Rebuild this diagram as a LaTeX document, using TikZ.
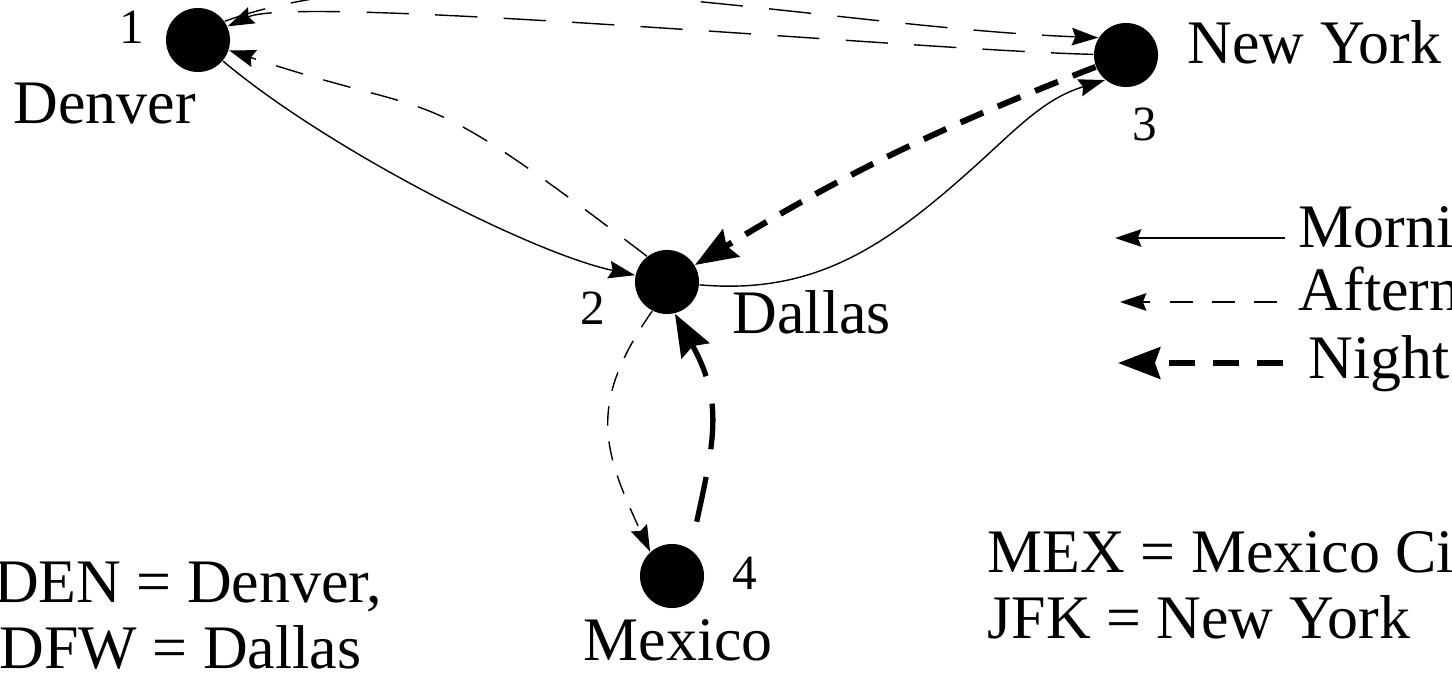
\documentclass[tikz,border=0pt]{standalone}
\usepackage{fontspec}
\setmainfont{Liberation Serif}
\usetikzlibrary{positioning, arrows.meta}

\begin{document}
\begin{tikzpicture}
    [
        x=0.01cm, y=0.01cm,
        city_node/.style={circle, draw=none, fill=black, inner sep=0pt, minimum size=6.4mm},
        num_label/.style={inner sep=0pt, font=\fontsize{14}{16}\selectfont},
        name_label/.style={inner sep=0pt, font=\fontsize{17.6}{20}\selectfont},
        morning_edge/.style={-{Stealth[length=7.5pt, width=5pt, inset=1pt]}, line width=0.4pt},
        afternoon_edge/.style={-{Stealth[length=7.5pt, width=5pt, inset=1pt]}, line width=0.4pt, dash pattern=on 8pt off 6pt},
        night_edge/.style={-{Stealth[length=12pt, width=9pt, inset=1.5pt]}, line width=1.7pt, dash pattern=on 7pt off 4.5pt},
    ]
        \path[use as bounding box] (0,0) rectangle (1452,678) ;
        \clip (0,0) rectangle (1452,678) ;

        \node[city_node] (den) at (198,638) {} ;
        \node[city_node] (dal) at (667,396) {} ;
        \node[city_node] (nyc) at (1126,623) {} ;
        \node[city_node] (mex) at (672,102) {} ;

        \node[num_label] (den_num) at (132,651) {1} ;
        \node[name_label, anchor=base west] (den_name) at (13,555) {Denver} ;
        \node[num_label] (dal_num) at (593,370) {2} ;
        \node[name_label, anchor=base west] (dal_name) at (732,345) {Dallas} ;
        \node[num_label] (nyc_num) at (1145,554) {3} ;
        \node[name_label, anchor=base west] (nyc_name) at (1187,615) {New York} ;
        \node[num_label] (mex_num) at (745,105) {4} ;
        \node[name_label, anchor=base west] (mex_name) at (583,18) {Mexico} ;

        \coordinate (dal_nyc) at (964,502) ;

        \draw[morning_edge] (den) .. controls +(128,-108) and +(-136,29) .. (dal) ;
        \draw[afternoon_edge] (dal.128) .. controls +(-241,184) and +(253,-84) .. (den) ;
        \draw[morning_edge] (dal) to[out=-5, in=-138.6] (dal_nyc) to[out=41.4, in=-163] (nyc.230) ;
        \draw[night_edge] (nyc) to[bend right=5] (dal) ;
        \draw[afternoon_edge, dash pattern=on 12pt off 7.5pt] (nyc) .. controls +(-196,4) and +(100,46) .. (den) ;
        \draw[afternoon_edge, dash pattern=on 12pt off 7.5pt] (den.35) .. controls +(215.8,78.6) and +(-278.9,10.6) .. (nyc.148) ;
        \draw[afternoon_edge, dash pattern=on 5.5pt off 4.5pt] (dal.243) to[out=235, in=115, looseness=1.2] (mex.132) ;
        \draw[night_edge, line width=1.5pt, dash pattern=on 13pt off 8pt, dash phase=13pt] (mex.55) to[out=78, in=-61, looseness=1.15] (dal.-76) ;

        \coordinate (mor_r) at (1285,440) ;
        \coordinate (mor_l) at (1115,440) ;
        \coordinate (aft_r) at (1277,376) ;
        \coordinate (aft_l) at (1120,376) ;
        \coordinate (ngt_r) at (1283,315) ;
        \coordinate (ngt_l) at (1118,315) ;
        \draw[morning_edge] (mor_r) -- (mor_l) ;
        \draw[afternoon_edge, dash pattern=on 6.5pt off 5.5pt] (aft_r) -- (aft_l) ;
        \draw[night_edge, dash pattern=on 7.5pt off 5pt] (ngt_r) -- (ngt_l) ;
        \node[name_label, anchor=base west] (mor_text) at (1298,431) {Morning} ;
        \node[name_label, anchor=base west] (aft_text) at (1298,368) {Afternoon} ;
        \node[name_label, anchor=base west] (ngt_text) at (1308,300) {Night} ;

        \node[name_label, anchor=base east] (den_code) at (383,76) {DEN = Denver,} ;
        \node[name_label, anchor=base east] (dfw_code) at (362,10) {DFW = Dallas} ;
        \node[name_label, anchor=base west] (mex_code) at (987,106) {MEX = Mexico City} ;
        \node[name_label, anchor=base west] (jfk_code) at (987,40) {JFK = New York} ;
    \end{tikzpicture}
\end{document}
